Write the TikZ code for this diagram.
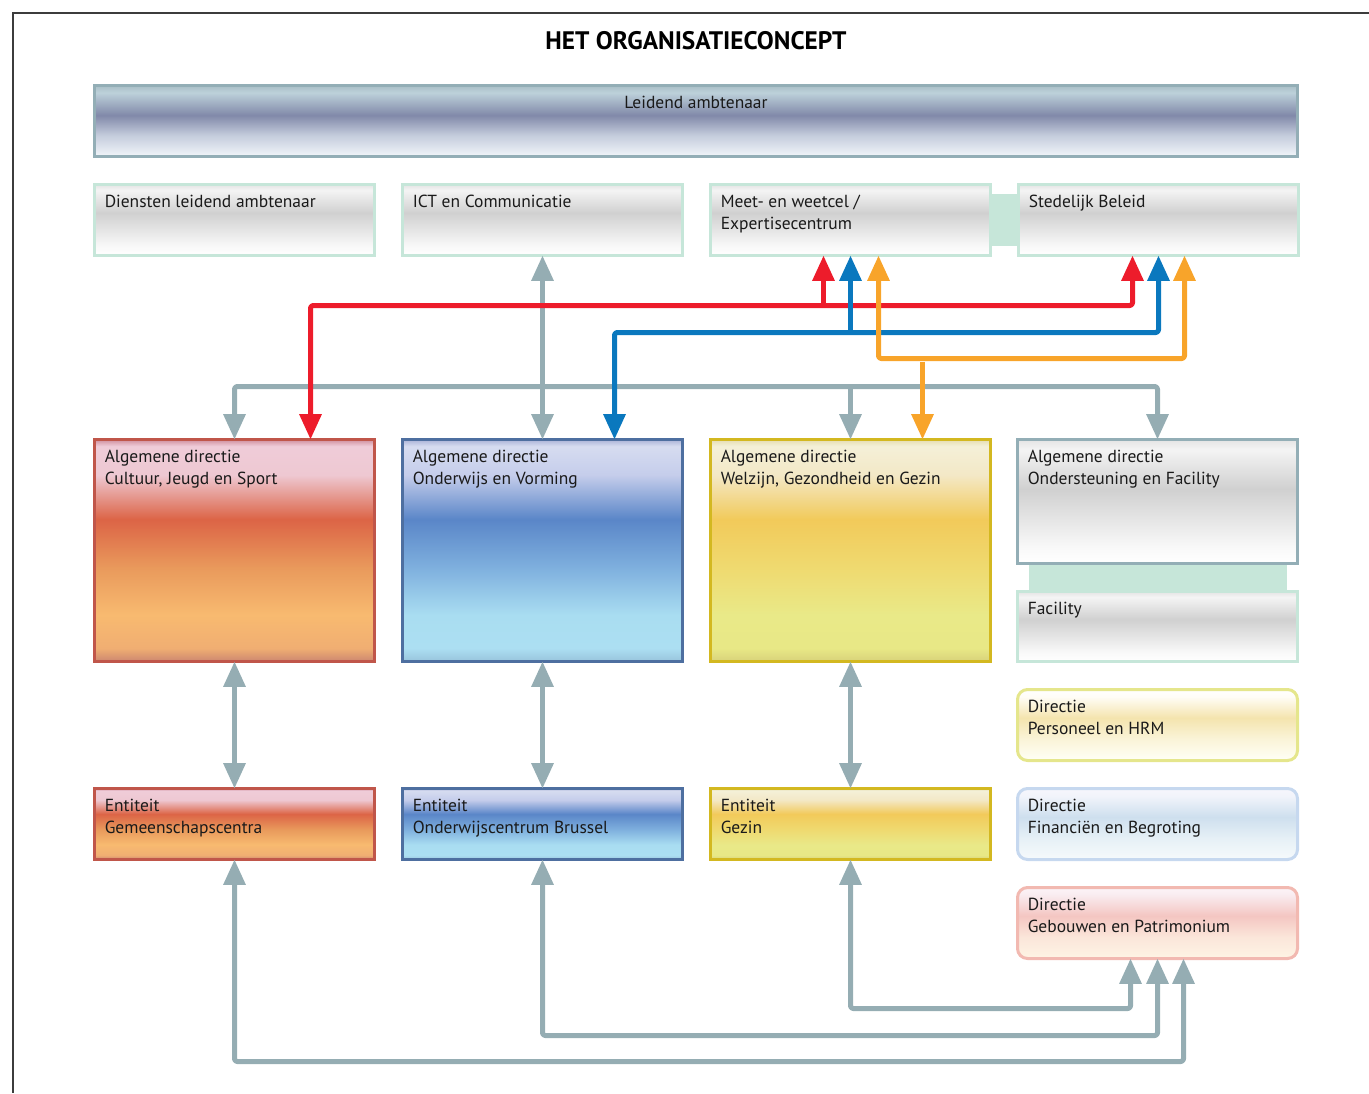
\documentclass[tikz,border=0pt]{standalone}
\usepackage{fontspec}
\setmainfont{PT Sans}
\usetikzlibrary{arrows.meta, calc, positioning}
% line and border colours
\definecolor{frmC}{HTML}{3C3C3C}
\definecolor{txtC}{HTML}{1A1A1A}
\definecolor{lnGry}{HTML}{95ADB3}
\definecolor{lnRed}{HTML}{ED1C2B}
\definecolor{lnBlu}{HTML}{0A78BE}
\definecolor{lnOra}{HTML}{F8A42A}
\definecolor{mintC}{HTML}{C6E6D9}
\definecolor{gryBd}{HTML}{93AEB6}
\definecolor{cuBd}{HTML}{C0564A}
\definecolor{onBd}{HTML}{4E6FA0}
\definecolor{wzBd}{HTML}{D3B820}
\definecolor{peBd}{HTML}{E5E68C}
\definecolor{fiBd}{HTML}{C6D8EF}
\definecolor{gbBd}{HTML}{F2B9B1}
% fill colours
\definecolor{ld1}{HTML}{A9BEC6}\definecolor{ld2}{HTML}{BDD1DA}\definecolor{ld3}{HTML}{8189A9}
\definecolor{ld4}{HTML}{C4CCDC}\definecolor{ld5}{HTML}{F2F6FA}
\definecolor{gr1}{HTML}{E4E4E4}\definecolor{gr2}{HTML}{F4F4F4}\definecolor{gr3}{HTML}{D0D0D0}
\definecolor{gr4}{HTML}{F8F8F8}
\definecolor{cu1}{HTML}{CF8E9C}\definecolor{cu2}{HTML}{EFCCD8}\definecolor{cu3}{HTML}{EEC8D2}
\definecolor{cu4}{HTML}{DC6446}\definecolor{cu5}{HTML}{E99A5C}\definecolor{cu6}{HTML}{F8BA70}
\definecolor{cu7}{HTML}{F0AE72}\definecolor{cu8}{HTML}{CC8670}
\definecolor{on1}{HTML}{A9B2D6}\definecolor{on2}{HTML}{D6DCF0}\definecolor{on3}{HTML}{C5CDEB}
\definecolor{on4}{HTML}{5A86C8}\definecolor{on5}{HTML}{7FB0DE}\definecolor{on6}{HTML}{A9DDF1}
\definecolor{on7}{HTML}{ACDFF2}\definecolor{on8}{HTML}{98C4DC}
\definecolor{wz1}{HTML}{E5DCB0}\definecolor{wz2}{HTML}{F4F0D8}\definecolor{wz3}{HTML}{F3E8C6}
\definecolor{wz4}{HTML}{F2CA5A}\definecolor{wz5}{HTML}{EFDA70}\definecolor{wz6}{HTML}{E9E988}
\definecolor{wz7}{HTML}{E8E886}\definecolor{wz8}{HTML}{D8D27A}
\definecolor{pe2}{HTML}{FFFDF6}\definecolor{pe3}{HTML}{F4E4AE}\definecolor{pe4}{HTML}{FAF4D8}
\definecolor{pe5}{HTML}{FFFFF6}
\definecolor{fi1}{HTML}{F6F6FC}\definecolor{fi2}{HTML}{F2F4FB}\definecolor{fi3}{HTML}{CEDFEE}
\definecolor{fi4}{HTML}{E6F0F6}\definecolor{fi5}{HTML}{F6FAFC}
\definecolor{gb1}{HTML}{FCF4F8}\definecolor{gb2}{HTML}{F9ECF0}\definecolor{gb3}{HTML}{F4C6C2}
\definecolor{gb4}{HTML}{FBE6DA}\definecolor{gb5}{HTML}{FEF4E4}
% shadings: 75bp = top of box, 25bp = bottom of box
\pgfdeclareverticalshading{shLd}{100bp}{color(0bp)=(ld5); color(25bp)=(ld5); color(40bp)=(ld4);
  color(54bp)=(ld3); color(70bp)=(ld2); color(75bp)=(ld1); color(100bp)=(ld1)}
\pgfdeclareverticalshading{shGr}{100bp}{color(0bp)=(white); color(25bp)=(white); color(32bp)=(gr4);
  color(55bp)=(gr3); color(71bp)=(gr2); color(75bp)=(gr1); color(100bp)=(gr1)}
\pgfdeclareverticalshading{shCu}{100bp}{color(0bp)=(cu8); color(25bp)=(cu8); color(28bp)=(cu7);
  color(35.5bp)=(cu6); color(46bp)=(cu5); color(57bp)=(cu4); color(67bp)=(cu3); color(73.5bp)=(cu2);
  color(75bp)=(cu1); color(100bp)=(cu1)}
\pgfdeclareverticalshading{shOn}{100bp}{color(0bp)=(on8); color(25bp)=(on8); color(28bp)=(on7);
  color(35.5bp)=(on6); color(46bp)=(on5); color(57bp)=(on4); color(67bp)=(on3); color(73.5bp)=(on2);
  color(75bp)=(on1); color(100bp)=(on1)}
\pgfdeclareverticalshading{shWz}{100bp}{color(0bp)=(wz8); color(25bp)=(wz8); color(28bp)=(wz7);
  color(35.5bp)=(wz6); color(46bp)=(wz5); color(57bp)=(wz4); color(67bp)=(wz3); color(73.5bp)=(wz2);
  color(75bp)=(wz1); color(100bp)=(wz1)}
\pgfdeclareverticalshading{shPe}{100bp}{color(0bp)=(pe5); color(25bp)=(pe5); color(40bp)=(pe4);
  color(55bp)=(pe3); color(70bp)=(pe2); color(75bp)=(white); color(100bp)=(white)}
\pgfdeclareverticalshading{shFi}{100bp}{color(0bp)=(fi5); color(25bp)=(fi5); color(40bp)=(fi4);
  color(55bp)=(fi3); color(70bp)=(fi2); color(75bp)=(fi1); color(100bp)=(fi1)}
\pgfdeclareverticalshading{shGb}{100bp}{color(0bp)=(gb5); color(25bp)=(gb5); color(40bp)=(gb4);
  color(55bp)=(gb3); color(70bp)=(gb2); color(75bp)=(gb1); color(100bp)=(gb1)}
\tikzset{
  box/.style   ={rectangle, inner sep=0pt, outer sep=0pt, line width=2.25pt, minimum width=210pt},
  short/.style ={minimum height=53.25pt},
  tall/.style  ={minimum height=166.5pt},
  rnd/.style   ={rounded corners=7.5pt},
  ldbx/.style  ={box, draw=gryBd, shading=shLd},
  grbx/.style  ={box, draw=mintC, shading=shGr},
  cubx/.style  ={box, draw=cuBd, shading=shCu},
  onbx/.style  ={box, draw=onBd, shading=shOn},
  wzbx/.style  ={box, draw=wzBd, shading=shWz},
  pebx/.style  ={box, rnd, draw=peBd, shading=shPe},
  fibx/.style  ={box, rnd, draw=fiBd, shading=shFi},
  gbbx/.style  ={box, rnd, draw=gbBd, shading=shGb},
  tx/.style    ={anchor=north west, align=left, inner sep=0pt, text=txtC, font=\fontsize{13.1}{16.5}\selectfont},
  ttl/.style   ={inner sep=0pt, text=black, font=\fontsize{19}{22}\selectfont\bfseries},
  mint/.style  ={fill=mintC},
  frm/.style   ={draw=frmC, line width=1.1pt},
  cn/.style    ={line width=3.75pt, line join=round, rounded corners=2pt, >={Triangle[length=19pt,width=16pt]}},
  gln/.style   ={cn, draw=lnGry},
  rln/.style   ={cn, draw=lnRed},
  bln/.style   ={cn, draw=lnBlu},
  oln/.style   ={cn, draw=lnOra},
}
\begin{document}
\begin{tikzpicture}[x=0.75pt, y=-0.75pt, node distance=21pt]
  \useasboundingbox (0,0) rectangle (1369,1093);
  \draw[frm] (1369,13) -- (13,13) -- (13,1093);
  \node[ttl] (title) at (696,41) {HET ORGANISATIECONCEPT};

  % leidend ambtenaar + staf
  \node[ldbx, short, minimum width=902.25pt] (lead) at (696,121) {};
  \node[tx, anchor=north] (lead-t) at ($(lead.north)+(0,10)$) {Leidend ambtenaar};
  \node[grbx, short] (dla) at (234.5,220) {};
  \node[grbx, short, right=of dla] (ict) {};
  \node[grbx, short, right=of ict] (meet) {};
  \node[grbx, short, right=of meet] (sted) {};
  \fill[mint] ($(meet.east)+(0,-26)$) rectangle ($(sted.west)+(0,26)$);
  \node[tx] (dla-t) at ($(dla.north west)+(10,10)$) {Diensten leidend ambtenaar};
  \node[tx] (ict-t) at ($(ict.north west)+(10,10)$) {ICT en Communicatie};
  \node[tx] (meet-t) at ($(meet.north west)+(10,10)$) {Meet- en weetcel /\\Expertisecentrum};
  \node[tx] (sted-t) at ($(sted.north west)+(10,10)$) {Stedelijk Beleid};

  % algemene directies
  \node[cubx, tall] (cult) at (234.5,550.5) {};
  \node[onbx, tall, right=of cult] (ond) {};
  \node[wzbx, tall, right=of ond] (welz) {};
  \node[grbx, draw=gryBd, minimum height=93pt] (onds) at (1157.5,501.5) {};
  \node[grbx, minimum height=52.5pt, below=of onds] (fac) {};
  \fill[mint] ($(onds.south west)+(11,1.5)$) rectangle ($(fac.north east)+(-11,-1.5)$);
  \node[tx] (cult-t) at ($(cult.north west)+(10,10)$) {Algemene directie\\Cultuur, Jeugd en Sport};
  \node[tx] (ond-t) at ($(ond.north west)+(10,10)$) {Algemene directie\\Onderwijs en Vorming};
  \node[tx] (welz-t) at ($(welz.north west)+(10,10)$) {Algemene directie\\Welzijn, Gezondheid en Gezin};
  \node[tx] (onds-t) at ($(onds.north west)+(10,10)$) {Algemene directie\\Ondersteuning en Facility};
  \node[tx] (fac-t) at ($(fac.north west)+(10,10)$) {Facility};

  % directies
  \node[pebx, short, below=of fac] (pers) {};
  \node[fibx, short, below=of pers] (fin) {};
  \node[gbbx, short, below=of fin] (geb) {};
  \node[tx] (pers-t) at ($(pers.north west)+(10,10)$) {Directie\\Personeel en HRM};
  \node[tx] (fin-t) at ($(fin.north west)+(10,10)$) {Directie\\Financiën en Begroting};
  \node[tx] (geb-t) at ($(geb.north west)+(10,10)$) {Directie\\Gebouwen en Patrimonium};

  % entiteiten
  \node[cubx, short] (gem) at (234.5,824) {};
  \node[onbx, short, right=of gem] (owc) {};
  \node[wzbx, short, right=of owc] (gez) {};
  \node[tx] (gem-t) at ($(gem.north west)+(10,10)$) {Entiteit\\Gemeenschapscentra};
  \node[tx] (owc-t) at ($(owc.north west)+(10,10)$) {Entiteit\\Onderwijscentrum Brussel};
  \node[tx] (gez-t) at ($(gez.north west)+(10,10)$) {Entiteit\\Gezin};

  % grey connectors
  \draw[gln,<->] (ict.south) -- (ond.north);
  \draw[gln,<->] (cult.north) |- ($(onds.north)+(0,-53)$) -- (onds.north);
  \draw[gln,->] ($(welz.north)+(0,-53)$) -- (welz.north);
  \draw[gln,<->] (cult.south) -- (gem.north);
  \draw[gln,<->] (ond.south) -- (owc.north);
  \draw[gln,<->] (welz.south) -- (gez.north);
  \draw[gln,<->] (gez.south) |- ($(geb.south)+(-27,50)$) -- ($(geb.south)+(-27,0)$);
  \draw[gln,<->] (owc.south) |- ($(geb.south)+(0,77)$) -- (geb.south);
  \draw[gln,<->] (gem.south) |- ($(geb.south)+(26,103)$) -- ($(geb.south)+(26,0)$);

  % red, blue, orange
  \draw[rln,<->] ($(sted.south)+(-26,0)$) -- ++(0,50) -| ($(cult.north)+(76,0)$);
  \draw[rln,->] ($(meet.south)+(-27,50)$) -- ($(meet.south)+(-27,0)$);
  \draw[bln,<->] (sted.south) -- ++(0,77) -| ($(ond.north)+(72,0)$);
  \draw[bln,->] ($(meet.south)+(0,77)$) -- (meet.south);
  \draw[oln,<->] ($(meet.south)+(28,0)$) |- ($(sted.south)+(26,103)$) -- ($(sted.south)+(26,0)$);
  \draw[oln,->] ($(welz.north)+(72,-78)$) -- ($(welz.north)+(72,0)$);
\end{tikzpicture}
\end{document}
